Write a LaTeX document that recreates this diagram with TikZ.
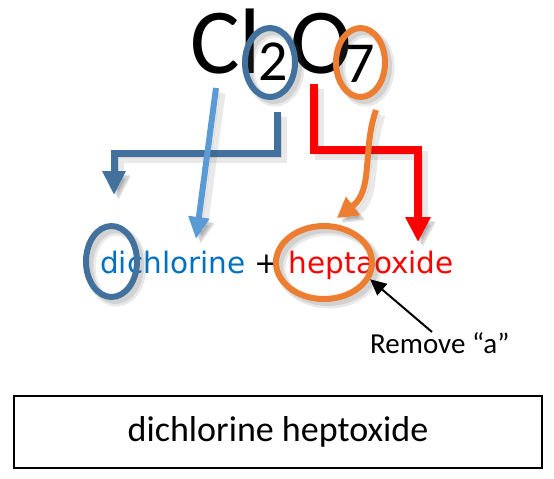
\documentclass[tikz,border=0pt]{standalone}
\usepackage{fontspec}
\setmainfont{DejaVu Sans}
\newfontfamily\carl{Carlito}
\usetikzlibrary{shapes.geometric,arrows.meta}
\definecolor{dblue}{RGB}{65,113,156}
\definecolor{lblue}{RGB}{91,155,213}
\definecolor{orng}{RGB}{237,125,49}
\definecolor{tblue}{RGB}{0,112,192}
\begin{document}
\begin{tikzpicture}[x=1pt,y=-1pt,
  shad/.style={preaction={draw=black!70,opacity=0.12,line width=9,transform canvas={xshift=5pt,yshift=-5pt}},
               preaction={draw=black!70,opacity=0.15,transform canvas={xshift=4pt,yshift=-4pt}}},
  ring/.style={ellipse,draw=#1,line width=6,inner sep=0,shad},
  bigtxt/.style={inner sep=0,anchor=base west,font=\carl\fontsize{93}{100}\selectfont},
  subtxt/.style={inner sep=0,anchor=base west,font=\carl\fontsize{58}{62}\selectfont},
  elbow/.style={line width=#1,miter limit=10,shad},
]
\useasboundingbox (0,0) rectangle (554,479);
% formula
\node[bigtxt] (cl) at (190,73) {Cl};
\node[subtxt] (two) at (258,80) {2};
\node[bigtxt] (o) at (290,73) {O};
\node[subtxt] (seven) at (345,82) {7};
% name line
\node[inner sep=0,anchor=base west,font=\fontsize{29.5}{32}\selectfont] (name) at (100,273)
  {\textcolor{tblue}{dichlorine} + \textcolor{red}{heptaoxide}};
% coordinates
\coordinate (b1) at (277,112);
\coordinate (btip) at (114,195);
\coordinate (r1) at (314,84);
\coordinate (rtip) at (418,242);
\coordinate (l1) at (216,88);
\coordinate (ltip) at (196,239);
\coordinate (o1) at (376,110);
\coordinate (otip) at (337,218);
% elbow arrows
\draw[elbow=7,draw=dblue,-{Triangle[width=22pt,length=24pt]}] (b1) -- ++(0,41) -| (btip);
\draw[elbow=8,draw=red,-{Triangle[width=24pt,length=25pt]}] (r1) -- ++(0,66) -| (rtip);
\draw[line width=6,draw=lblue,shad,-{Triangle[width=20pt,length=22pt]}] (l1) -- (ltip);
\draw[line width=6,draw=orng,shad,-{Triangle[width=22pt,length=20pt]}] (o1) .. controls (362,150) and (374,190) .. (otip);
% rings
\node[ring=dblue,minimum width=50,minimum height=69] (e2) at (270,62.5) {};
\node[ring=orng,minimum width=49,minimum height=69] (e7) at (360.5,62.5) {};
\node[ring=dblue,minimum width=51,minimum height=71] (ed) at (111.5,261.5) {};
\node[ring=orng,minimum width=96,minimum height=73] (eh) at (324,262.5) {};
% remove note
\node[inner sep=0,anchor=base west,font=\carl\fontsize{29}{32}\selectfont] (rem) at (370,353) {Remove “a”};
\coordinate (k1) at (432,332);
\draw[line width=2,-{Triangle[width=15pt,length=16pt]}] (k1) -- (eh.-20);
% result box
\node[draw,line width=2,minimum width=528,minimum height=72,inner sep=0,font=\carl\fontsize{36}{40}\selectfont] (box) at (278,432) {dichlorine heptoxide};
\end{tikzpicture}
\end{document}
